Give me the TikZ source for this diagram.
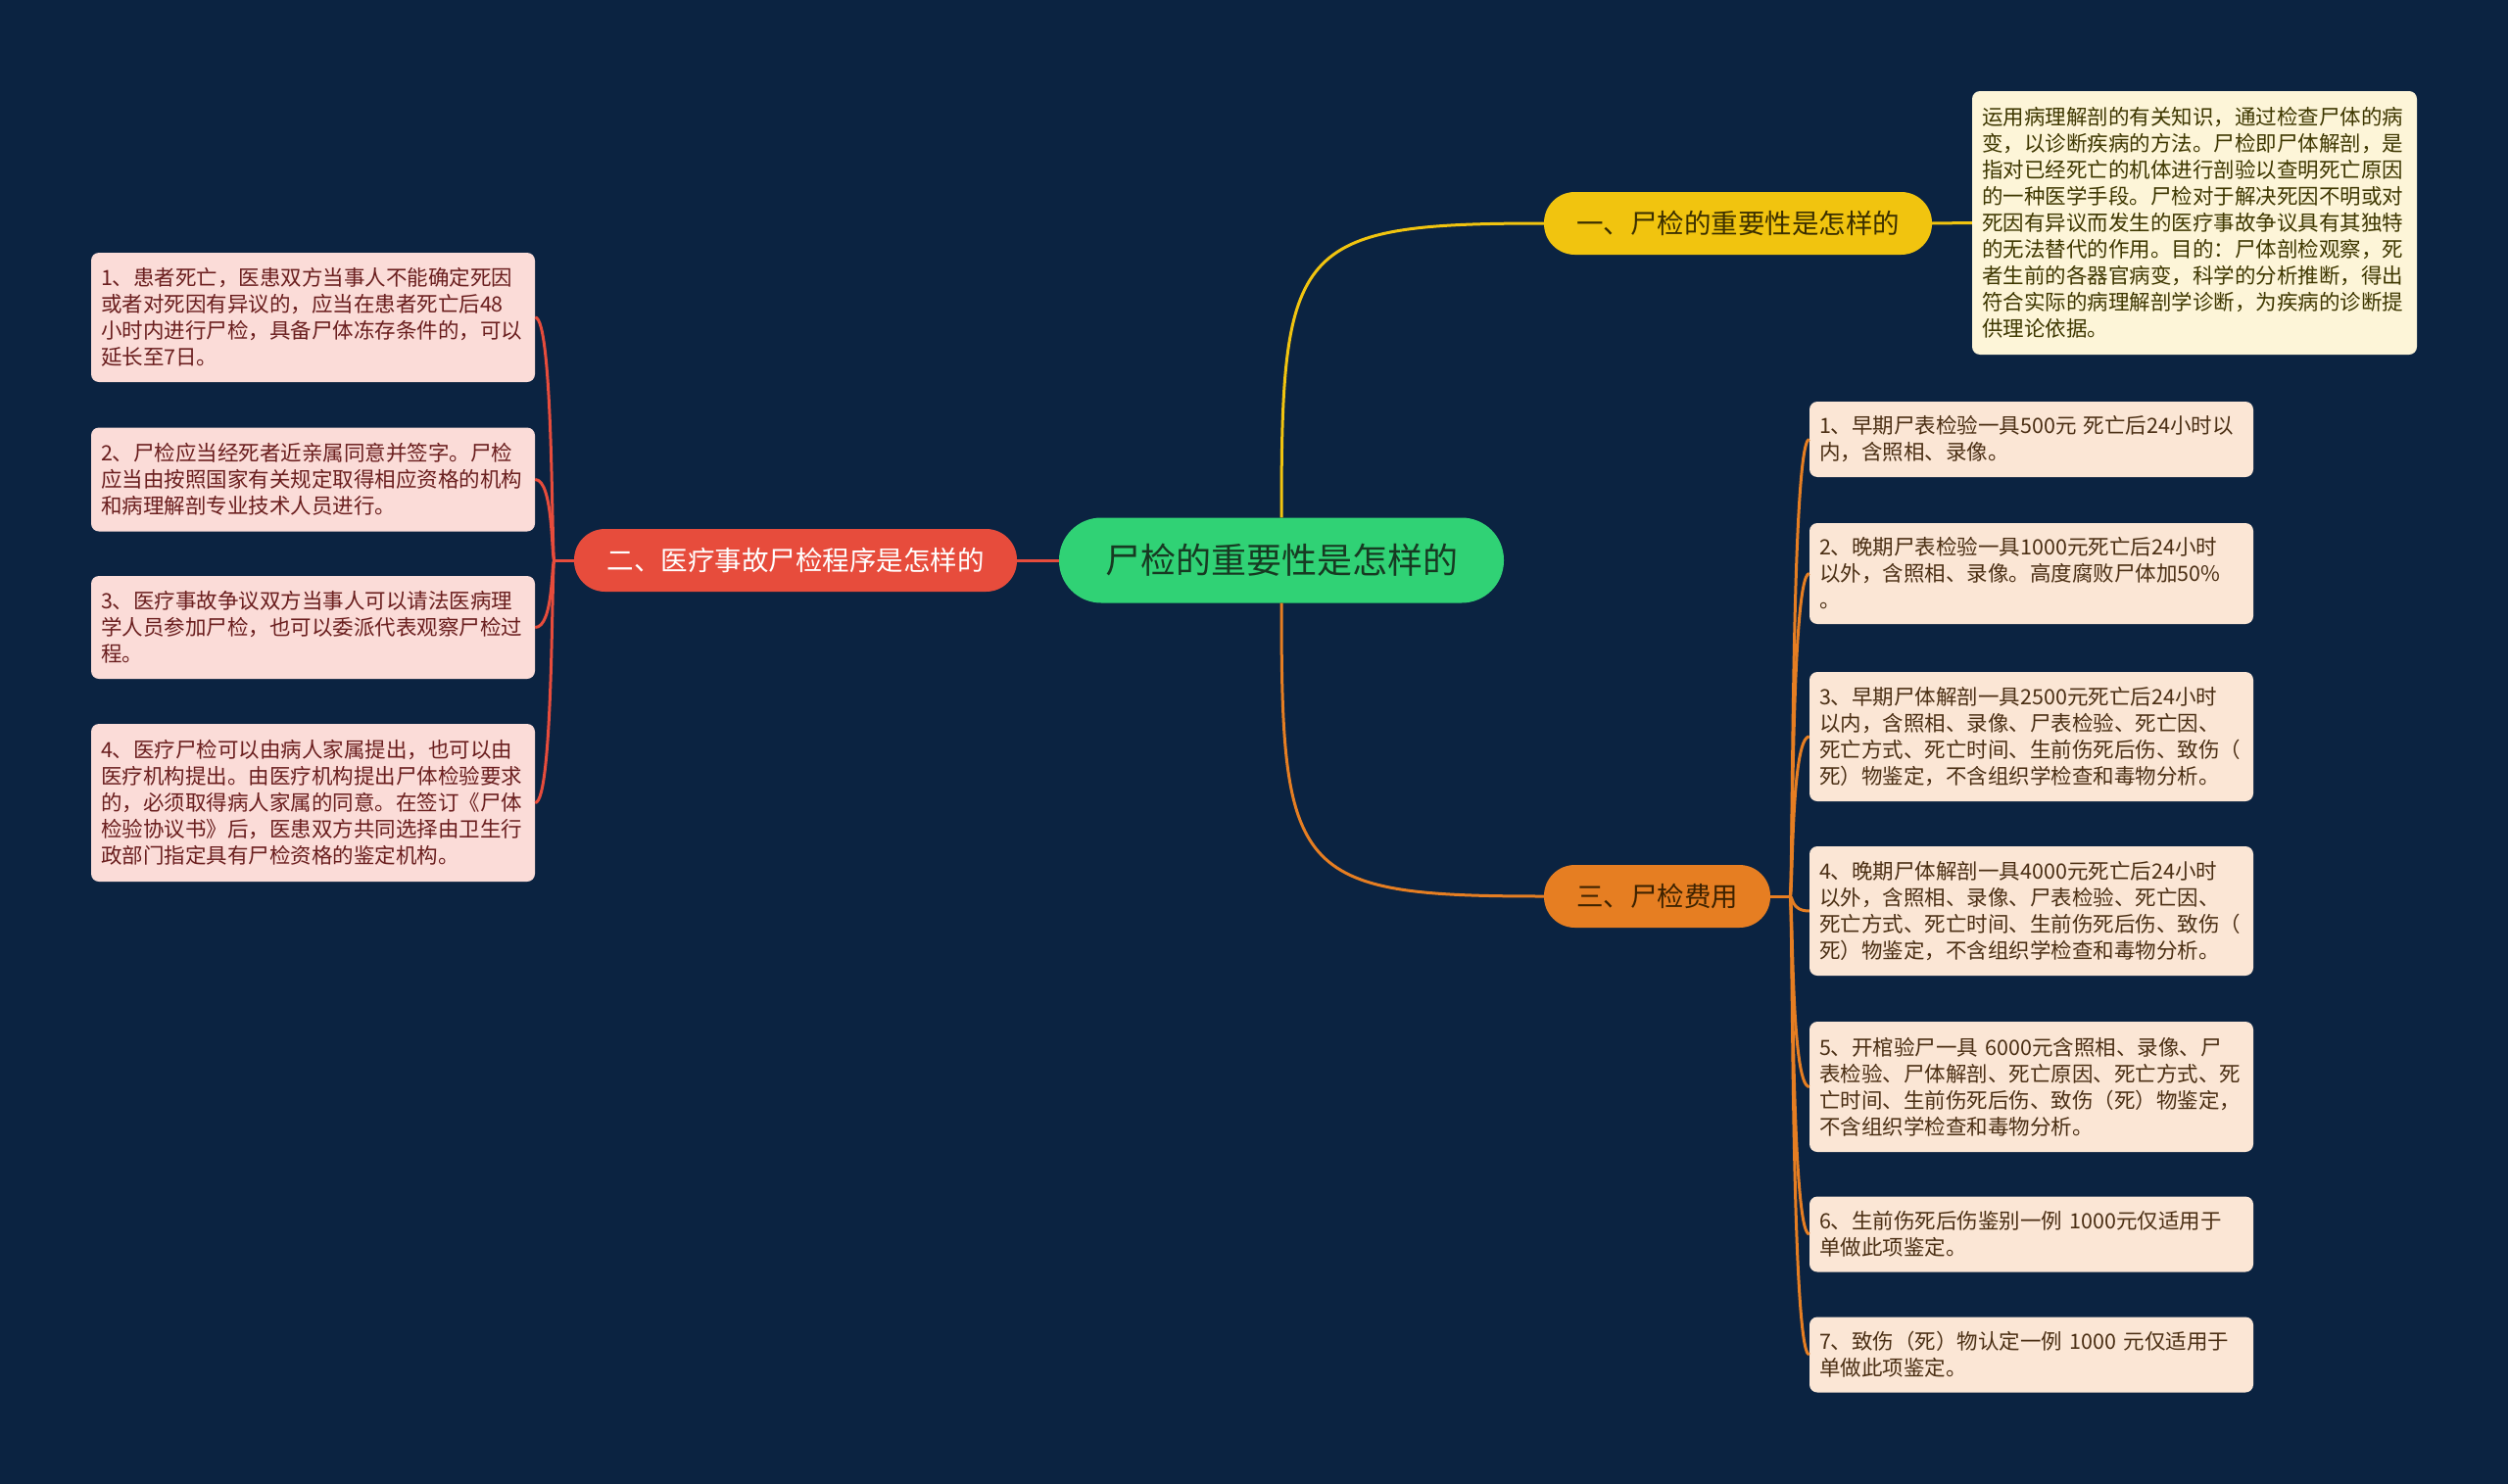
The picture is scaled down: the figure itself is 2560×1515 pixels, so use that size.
\documentclass[tikz,border=0pt]{standalone}
\usepackage{fontspec}
\newfontfamily\cjk{Noto Sans CJK SC}
\definecolor{bg}{HTML}{0B2341}
\definecolor{rootg}{HTML}{30D275}
\definecolor{roott}{HTML}{173A22}
\definecolor{redn}{HTML}{E74C3C}
\definecolor{yeln}{HTML}{F1C40F}
\definecolor{yelt}{HTML}{3B2F00}
\definecolor{orn}{HTML}{E67E22}
\definecolor{ort}{HTML}{3D2200}
\definecolor{lfill}{HTML}{FBDCD8}
\definecolor{ltext}{HTML}{6A1E1E}
\definecolor{rfill}{HTML}{FBE6D5}
\definecolor{rtext}{HTML}{4B2F14}
\definecolor{yfill}{HTML}{FDF5D8}
\definecolor{ytext}{HTML}{3E3700}
\tikzset{
  pill/.style={inner sep=0pt, minimum height=64pt, rounded corners=31.5pt,
    font=\cjk\fontsize{27.5}{33}\selectfont},
  tbox/.style={rounded corners=8pt, inner xsep=10pt, inner ysep=0pt,
    text width=433pt, minimum width=453pt, align=left,
    font=\cjk\fontsize{21.5}{27}\selectfont},
  lbox/.style={tbox, fill=lfill, text=ltext},
  rbox/.style={tbox, fill=rfill, text=rtext},
  ybox/.style={tbox, fill=yfill, text=ytext, text width=434pt, minimum width=454pt},
  link/.style={line width=3pt},
}
\begin{document}
\begin{tikzpicture}[x=1pt,y=-1pt]
\fill[bg] (0,0) rectangle (2560,1515);
\useasboundingbox (0,0) rectangle (2560,1515);

% main nodes
\node[pill, fill=rootg, text=roott, minimum width=454pt, minimum height=87pt,
  rounded corners=43pt, font=\cjk\fontsize{36}{42}\selectfont] (root) at (1308,572) {尸检的重要性是怎样的};
\node[pill, fill=redn, text=white, minimum width=452pt] (n2) at (812,572) {二、医疗事故尸检程序是怎样的};
\node[pill, fill=yeln, text=yelt, minimum width=396pt] (n1) at (1774,228) {一、尸检的重要性是怎样的};
\node[pill, fill=orn, text=ort, minimum width=231pt] (n3) at (1691.5,915) {三、尸检费用};

% yellow text box
\node[ybox, minimum height=269pt] (yb) at (2240,227.5) {运用病理解剖的有关知识，通过检查尸体的病\\变，以诊断疾病的方法。尸检即尸体解剖，是\\指对已经死亡的机体进行剖验以查明死亡原因\\的一种医学手段。尸检对于解决死因不明或对\\死因有异议而发生的医疗事故争议具有其独特\\的无法替代的作用。目的：尸体剖检观察，死\\者生前的各器官病变，科学的分析推断，得出\\符合实际的病理解剖学诊断，为疾病的诊断提\\供理论依据。};

% left boxes
\node[lbox, minimum height=132pt] (L1) at (319.5,324) {1、患者死亡，医患双方当事人不能确定死因\\或者对死因有异议的，应当在患者死亡后48\\小时内进行尸检，具备尸体冻存条件的，可以\\延长至7日。};
\node[lbox, minimum height=106pt] (L2) at (319.5,489.5) {2、尸检应当经死者近亲属同意并签字。尸检\\应当由按照国家有关规定取得相应资格的机构\\和病理解剖专业技术人员进行。};
\node[lbox, minimum height=105pt] (L3) at (319.5,640.5) {3、医疗事故争议双方当事人可以请法医病理\\学人员参加尸检，也可以委派代表观察尸检过\\程。};
\node[lbox, minimum height=161pt] (L4) at (319.5,819.5) {4、医疗尸检可以由病人家属提出，也可以由\\医疗机构提出。由医疗机构提出尸体检验要求\\的，必须取得病人家属的同意。在签订《尸体\\检验协议书》后，医患双方共同选择由卫生行\\政部门指定具有尸检资格的鉴定机构。};

% right boxes
\node[rbox, minimum height=77pt] (R1) at (2073.5,448.5) {1、早期尸表检验一具500元 死亡后24小时以\\内，含照相、录像。};
\node[rbox, minimum height=103pt] (R2) at (2073.5,585.5) {2、晚期尸表检验一具1000元死亡后24小时\\以外，含照相、录像。高度腐败尸体加50\%\\。};
\node[rbox, minimum height=132pt] (R3) at (2073.5,752) {3、早期尸体解剖一具2500元死亡后24小时\\以内，含照相、录像、尸表检验、死亡因、\\死亡方式、死亡时间、生前伤死后伤、致伤（\\死）物鉴定，不含组织学检查和毒物分析。};
\node[rbox, minimum height=132pt] (R4) at (2073.5,930) {4、晚期尸体解剖一具4000元死亡后24小时\\以外，含照相、录像、尸表检验、死亡因、\\死亡方式、死亡时间、生前伤死后伤、致伤（\\死）物鉴定，不含组织学检查和毒物分析。};
\node[rbox, minimum height=133pt] (R5) at (2073.5,1109.5) {5、开棺验尸一具 6000元含照相、录像、尸\\表检验、尸体解剖、死亡原因、死亡方式、死\\亡时间、生前伤死后伤、致伤（死）物鉴定，\\不含组织学检查和毒物分析。};
\node[rbox, minimum height=77pt] (R6) at (2073.5,1260) {6、生前伤死后伤鉴别一例 1000元仅适用于\\单做此项鉴定。};
\node[rbox, minimum height=77pt] (R7) at (2073.5,1383) {7、致伤（死）物认定一例 1000 元仅适用于\\单做此项鉴定。};

% connectors
\draw[link, redn] (root.west) -- (n2.east);
\draw[link, yeln] (root.north) .. controls (1308,250) and (1320,228) .. (n1.west);
\draw[link, orn] (root.south) .. controls (1308,894) and (1320,915) .. (n3.west);
\draw[link, yeln] (n1.east) -- (yb.west);

\draw[link, redn] (n2.west) -- ++(-20,0) coordinate (j2);
\foreach \b in {L1,L2,L3,L4}
  \draw[link, redn] (j2) .. controls +(-3,0) and +(19,0) .. (\b.east);

\draw[link, orn] (n3.east) -- ++(20,0) coordinate (j3);
\foreach \b in {R1,R2,R3,R4,R5,R6,R7}
  \draw[link, orn] (j3) .. controls +(3,0) and +(-19,0) .. (\b.west);
\end{tikzpicture}
\end{document}
